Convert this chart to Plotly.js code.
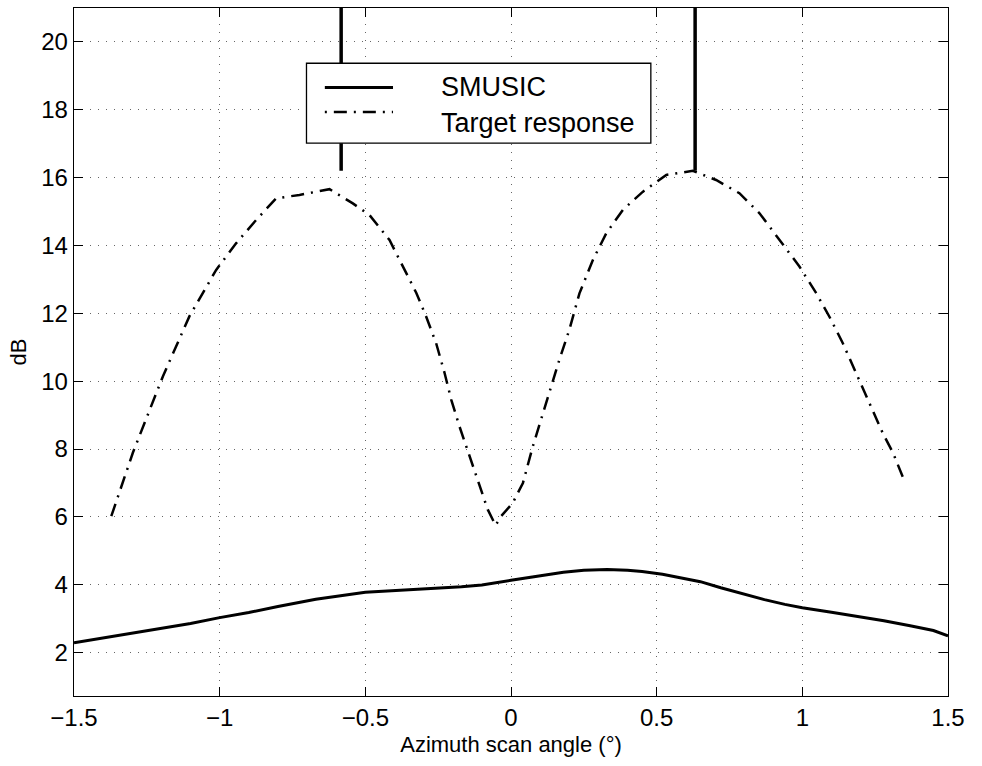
<!DOCTYPE html>
<html>
<head>
<meta charset="utf-8">
<script src="https://cdn.plot.ly/plotly-3.0.1.min.js"></script>
<style>html,body{margin:0;padding:0;background:#fff;}#chart{width:982px;height:766px;}</style>
</head>
<body>
<div id="chart"></div>
<script>
// SMUSIC spectrum (dB) vs azimuth scan angle (deg)
const smusicX = [-1.5, -1.3, -1.1, -1.0, -0.9, -0.8, -0.67, -0.5, -0.4, -0.32, -0.17, -0.1, 0.0, 0.1, 0.18, 0.25, 0.33, 0.4, 0.45, 0.52, 0.57, 0.65, 0.72, 0.8, 0.87, 0.94, 1.0, 1.1, 1.18, 1.28, 1.37, 1.45, 1.5];
const smusicY = [2.29, 2.57, 2.86, 3.03, 3.18, 3.36, 3.57, 3.78, 3.84, 3.87, 3.94, 3.99, 4.13, 4.27, 4.37, 4.43, 4.45, 4.43, 4.39, 4.31, 4.23, 4.09, 3.91, 3.72, 3.56, 3.42, 3.32, 3.19, 3.08, 2.94, 2.79, 2.65, 2.49];
// SMUSIC peaks (off scale)
const peakX = [-0.583, 0.632];
const peakLow = [16.2, 16.2];
const peakHigh = [40, 40];
// Target response
const targetX = [-1.372, -1.298, -1.195, -1.104, -1.012, -0.943, -0.875, -0.806, -0.726, -0.623, -0.543, -0.486, -0.417, -0.371, -0.325, -0.291, -0.257, -0.228, -0.205, -0.177, -0.142, -0.108, -0.08, -0.053, -0.034, 0.006, 0.041, 0.075, 0.109, 0.138, 0.166, 0.2, 0.235, 0.281, 0.327, 0.384, 0.452, 0.533, 0.624, 0.704, 0.784, 0.853, 0.922, 0.99, 1.048, 1.093, 1.139, 1.185, 1.231, 1.276, 1.311, 1.351];
const targetY = [6.02, 7.89, 10.14, 11.91, 13.28, 14.07, 14.75, 15.39, 15.49, 15.66, 15.24, 14.9, 14.16, 13.38, 12.6, 11.9, 11.12, 10.24, 9.45, 8.67, 7.79, 6.9, 6.22, 5.75, 6.02, 6.41, 7.0, 8.08, 9.06, 9.85, 10.63, 11.51, 12.59, 13.57, 14.36, 15.05, 15.58, 16.08, 16.2, 15.93, 15.54, 14.95, 14.16, 13.38, 12.59, 11.9, 11.12, 10.24, 9.36, 8.47, 7.89, 7.05];
const xTicks = [-1.5, -1, -0.5, 0, 0.5, 1, 1.5];
const yTicks = [2, 4, 6, 8, 10, 12, 14, 16, 18, 20];
const seriesNames = ["SMUSIC", "Target response"];

const dashDot = "13px,7px,2px,7px";
const peakXs = [], peakYs = [];
peakX.forEach((x, i) => { peakXs.push(x, x, null); peakYs.push(peakLow[i], peakHigh[i], null); });

const traces = [
  {x: smusicX, y: smusicY, mode: "lines", name: seriesNames[0], line: {color: "#000", width: 3}, showlegend: false},
  {x: peakXs, y: peakYs, mode: "lines", name: seriesNames[0], line: {color: "#000", width: 3.5}, showlegend: false},
  {x: targetX, y: targetY, mode: "lines", name: seriesNames[1], line: {color: "#000", width: 2.5, dash: dashDot}, showlegend: false}
];

const font = "Liberation Sans, Arial, Helvetica, sans-serif";
const axisCommon = {
  showline: true, linecolor: "#000", linewidth: 1.3, mirror: "allticks",
  ticks: "inside", ticklen: 9, tickwidth: 1, tickcolor: "#000",
  showgrid: true, gridcolor: "#666", griddash: "1px,7px", gridwidth: 1,
  zeroline: false, tickfont: {family: font, size: 24, color: "#000"}
};

// legend drawn in paper coordinates
const legX0 = 0.266, legX1 = 0.66, legY0 = 0.8035, legY1 = 0.9197;
const rowY = [0.8846, 0.849], textY = [0.8846, 0.833];
const shapes = [
  {type: "rect", xref: "paper", yref: "paper", x0: legX0, x1: legX1, y0: legY0, y1: legY1, line: {color: "#000", width: 1.3}, fillcolor: "#fff", layer: "above"},
  {type: "line", xref: "paper", yref: "paper", x0: 0.287, x1: 0.365, y0: rowY[0], y1: rowY[0], line: {color: "#000", width: 3}, layer: "above"},
  {type: "line", xref: "paper", yref: "paper", x0: 0.287, x1: 0.365, y0: rowY[1], y1: rowY[1], line: {color: "#000", width: 2.5, dash: "2px,7px,13px,7px"}, layer: "above"}
];
const annotations = seriesNames.map((n, i) => ({
  xref: "paper", yref: "paper", x: 0.4175, y: textY[i], xanchor: "left", yanchor: "middle",
  text: n, showarrow: false, font: {family: font, size: 27, color: "#000"}
}));

const layout = {
  width: 982, height: 766,
  margin: {l: 74, r: 34, t: 8, b: 70},
  paper_bgcolor: "#fff", plot_bgcolor: "#fff",
  showlegend: false,
  xaxis: Object.assign({}, axisCommon, {range: [-1.5, 1.5], tickvals: xTicks, ticktext: xTicks.map(v => (v < 0 ? "\u2212" : "") + Math.abs(v)),
    title: {text: "Azimuth scan angle (\u00b0)", font: {family: font, size: 22, color: "#000"}, standoff: 6}}),
  yaxis: Object.assign({}, axisCommon, {range: [0.72, 21.0], tickvals: yTicks,
    title: {text: "dB", font: {family: font, size: 22, color: "#000"}, standoff: 8}}),
  shapes: shapes,
  annotations: annotations
};

Plotly.newPlot("chart", traces, layout, {displayModeBar: false, staticPlot: true});
</script>
</body>
</html>
